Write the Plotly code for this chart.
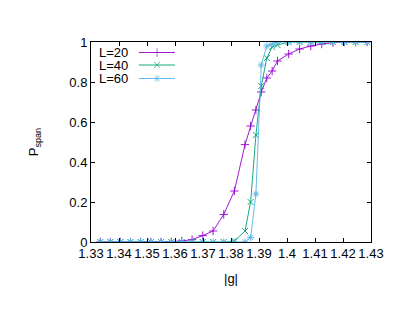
import plotly.graph_objects as go

# |g| grid (shared by all three system sizes)
g_values = [1.3333, 1.3369, 1.3405, 1.3441, 1.3477, 1.3514, 1.3550, 1.3587,
            1.3624, 1.3661, 1.3699, 1.3736, 1.3774, 1.3812, 1.3850, 1.3870,
            1.3889, 1.3908, 1.3928, 1.3947, 1.3966, 1.4006, 1.4045, 1.4085,
            1.4124, 1.4164, 1.4205, 1.4245, 1.4286]

p_L20 = [0, 0, 0, 0, 0, 0, 0, 0.002, 0.005, 0.012, 0.032, 0.055, 0.138, 0.255,
         0.487, 0.58, 0.66, 0.75, 0.82, 0.855, 0.905, 0.94, 0.965, 0.98, 0.99,
         0.997, 1, 1, 1]
p_L40 = [0, 0, 0, 0, 0, 0, 0, 0, 0, 0, 0, 0, 0, 0.005,
         0.055, 0.2, 0.535, 0.78, 0.92, 0.975, 0.985, 1, 1, 1, 1,
         1, 1, 1, 1]
p_L60 = [0, 0, 0, 0, 0, 0, 0, 0, 0, 0, 0, 0, 0, 0,
         0, 0.022, 0.24, 0.885, 0.98, 0.99, 1, 1, 1, 1, 1,
         1, 1, 1, 1]

series_names = ["L=20", "L=40", "L=60"]
series_values = [p_L20, p_L40, p_L60]
colors = ["#9400d3", "#009e73", "#56b4e9"]
symbols = ["cross-thin-open", "x-thin-open", "asterisk-open"]

x_ticks = [1.33, 1.34, 1.35, 1.36, 1.37, 1.38, 1.39, 1.40, 1.41, 1.42, 1.43]
x_ticktext = ["1.33", "1.34", "1.35", "1.36", "1.37", "1.38", "1.39", "1.4", "1.41", "1.42", "1.43"]
y_ticks = [0, 0.2, 0.4, 0.6, 0.8, 1]
y_ticktext = ["0", "0.2", "0.4", "0.6", "0.8", "1"]

FONT = "Liberation Sans, Arial, sans-serif"

fig = go.Figure()
for name, vals, col, sym in zip(series_names, series_values, colors, symbols):
    fig.add_trace(go.Scatter(
        x=g_values, y=vals, mode="lines+markers", name=name,
        line=dict(color=col, width=0.9),
        marker=dict(symbol=sym, size=6, color=col, line=dict(color=col, width=0.9)),
        showlegend=False,
    ))

# gnuplot-style key: text on the left, sample on the right
key_y = [0.9475, 0.885, 0.8175]
for name, col, sym, ky in zip(series_names, colors, symbols, key_y):
    fig.add_annotation(xref="paper", yref="paper", x=0.139, y=ky, text=name,
                       showarrow=False, xanchor="right", yanchor="middle",
                       font=dict(family=FONT, size=13, color="black"))
    fig.add_trace(go.Scatter(
        x=[0.171, 0.236, 0.3], y=[ky, ky, ky], xaxis="x2", yaxis="y2",
        mode="lines+markers", showlegend=False, hoverinfo="skip",
        line=dict(color=col, width=0.9),
        marker=dict(symbol=sym, size=[0, 6, 0], color=col, line=dict(color=col, width=0.9)),
    ))

axis_common = dict(
    showline=True, linecolor="black", linewidth=1, mirror="ticks",
    ticks="inside", ticklen=4, tickcolor="black", tickwidth=1,
    showgrid=False, zeroline=False,
    tickfont=dict(family=FONT, size=13, color="black"),
)

fig.update_layout(
    width=407, height=315,
    margin=dict(l=91, r=36, t=42, b=73),
    paper_bgcolor="white", plot_bgcolor="white",
    font=dict(family=FONT, size=13, color="black"),
    xaxis=dict(range=[1.33, 1.43], tickvals=x_ticks, ticktext=x_ticktext,
               ticklabelstandoff=-1,
               title=dict(text="|g|", standoff=14, font=dict(family=FONT, size=13)),
               **axis_common),
    yaxis=dict(range=[0, 1], tickvals=y_ticks, ticktext=y_ticktext,
               title=dict(text="P<sub>span</sub>", standoff=27, font=dict(family=FONT, size=13)),
               **axis_common),
    xaxis2=dict(range=[0, 1], overlaying="x", visible=False),
    yaxis2=dict(range=[0, 1], overlaying="y", visible=False),
)

fig.write_html("out.html", config={"displayModeBar": False},
               post_script="document.body.style.margin='0';")
